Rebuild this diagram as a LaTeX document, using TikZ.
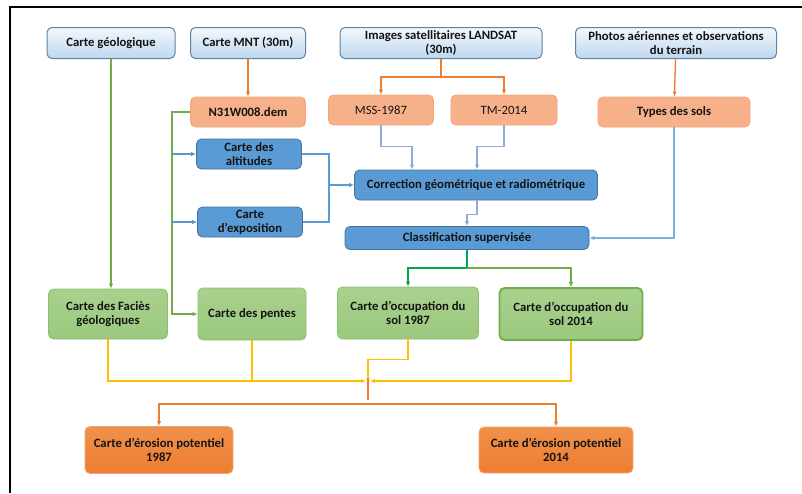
\documentclass[tikz,border=0pt]{standalone}
\usepackage{fontspec}
\setmainfont{Carlito}
\usepackage{tikz}
\usetikzlibrary{positioning,arrows.meta}
\definecolor{srcborder}{HTML}{5F83A5}
\definecolor{srctop}{HTML}{F4F8FC}
\definecolor{srcbot}{HTML}{BDD7EE}
\definecolor{salmon}{HTML}{F6B08A}
\definecolor{salmonline}{HTML}{F2A574}
\definecolor{midblue}{HTML}{5B9BD5}
\definecolor{darkblue}{HTML}{41719C}
\definecolor{paleblue}{HTML}{8FAADC}
\definecolor{leaf}{HTML}{A9D18E}
\definecolor{leafbot}{HTML}{9BC97E}
\definecolor{leafline}{HTML}{8CC06C}
\definecolor{grass}{HTML}{70AD47}
\definecolor{deepgreen}{HTML}{00A651}
\definecolor{carrot}{HTML}{ED7D31}
\definecolor{carrottop}{HTML}{F0914B}
\definecolor{amber}{HTML}{FFC000}
\definecolor{ink}{HTML}{141414}
\tikzset{
  flowarrow/.style={-{Latex[length=5pt,width=4.5pt]}},
  basebox/.style={rounded corners=5pt, align=center, text=ink, inner sep=2pt},
  srcbox/.style={basebox, draw=srcborder, line width=1pt, top color=srctop, bottom color=srcbot, minimum height=31pt},
  rawbox/.style={basebox, draw=salmonline, line width=0.8pt, fill=salmon, minimum height=30pt},
  procbox/.style={basebox, draw=darkblue, line width=0.8pt, fill=midblue, minimum height=30pt},
  mapbox/.style={basebox, draw=leafline, line width=0.8pt, top color=leaf, bottom color=leafbot},
  finalbox/.style={basebox, draw=salmonline, line width=0.8pt, top color=carrottop, bottom color=carrot},
  orangeline/.style={flowarrow, draw=carrot, line width=1.3pt},
  greenline/.style={flowarrow, draw=grass, line width=1.8pt},
  blueline/.style={flowarrow, draw=midblue, line width=1.8pt},
  paleline/.style={flowarrow, draw=paleblue, line width=1.2pt},
  yellowline/.style={flowarrow, draw=amber, line width=1.3pt},
  thickorange/.style={flowarrow, draw=carrot, line width=2.4pt}
}
\begin{document}
\begin{tikzpicture}[x=1pt, y=-1pt, every node/.style={font=\bfseries\fontsize{12.7}{14}\selectfont}]
  \useasboundingbox (0,0) rectangle (802,493);
  \draw[line width=2.6pt] (10,493) -- (10,7) -- (802,7);

  \node[srcbox, minimum width=128pt] (geo) at (111,43) {Carte géologique};
  \node[srcbox, minimum width=115pt] (mnt) at (248,43) {Carte MNT (30m)};
  \node[srcbox, minimum width=202pt] (landsat) at (441,43) {Images satellitaires LANDSAT\\(30m)};
  \node[srcbox, minimum width=201pt] (photos) at (676,43) {Photos aériennes et observations\\du terrain};

  \node[rawbox, minimum width=115pt] (dem) at (248,112) {N31W008.dem};
  \node[rawbox, minimum width=105pt, font=\mdseries\fontsize{12.7}{14}\selectfont] (mss) at (381,110) {MSS-1987};
  \node[rawbox, minimum width=106pt, font=\mdseries\fontsize{12.7}{14}\selectfont] (tm) at (504,110) {TM-2014};
  \node[rawbox, minimum width=152pt] (sols) at (674,112) {Types des sols};

  \node[procbox, minimum width=105pt] (alt) at (249,154) {Carte des\\altitudes};
  \node[procbox, minimum width=105pt] (expo) at (250,222) {Carte\\d’exposition};
  \node[procbox, minimum width=243pt] (corr) at (476,185) {Correction géométrique et radiométrique};
  \node[procbox, minimum width=244pt, minimum height=23pt] (classif) at (467,238) {Classification supervisée};

  \node[mapbox, minimum width=119pt, minimum height=50pt] (facies) at (108,314) {Carte des Faciès\\géologiques};
  \node[mapbox, minimum width=108pt, minimum height=52pt] (pentes) at (252,314) {Carte des pentes};
  \node[mapbox, minimum width=141pt, minimum height=52pt] (occ87) at (408,313) {Carte d’occupation du\\sol 1987};
  \node[mapbox, draw=grass, line width=1.8pt, minimum width=143pt, minimum height=52pt] (occ14) at (571,314) {Carte d’occupation du\\sol 2014};

  \node[finalbox, minimum width=148pt, minimum height=47pt] (ero87) at (159,450) {Carte d’érosion potentiel\\1987};
  \node[finalbox, minimum width=154pt, minimum height=46pt] (ero14) at (556,450) {Carte d’érosion potentiel\\2014};

  \coordinate (jct) at (368,381);

  \draw[orangeline] (mnt) -- (dem);
  \draw[orangeline] (landsat.south) -- ++(0,18) -| (mss.north);
  \draw[orangeline] (landsat.south) ++(0,18) -| (tm.north);
  \draw[orangeline] (photos) -- (sols);

  \draw[greenline] (geo) -- (geo |- facies.north);
  \draw[greenline] (dem.west) -- ++(-18,0) coordinate (demleft) |- (pentes.west);
  \draw[blueline, draw=midblue!90!darkblue, line width=1.2pt] (demleft |- alt.west) -- (alt.west);
  \draw[blueline, draw=midblue!90!darkblue, line width=1.2pt] (demleft |- expo.west) -- (expo.west);

  \draw[blueline, -] (alt.east) -- ++(27,0) coordinate (altright) |- (expo.east);
  \draw[blueline] (altright |- corr.west) -- (corr.west);

  \draw[paleline] (mss.south) -- ++(0,21) -| ([xshift=-64pt]corr.north);
  \draw[paleline] (tm.south) -- ++(0,21) -| ([xshift=1pt]corr.north);
  \draw[paleline] ([xshift=1pt]corr.south) -- ++(0,14) -| (classif.north);
  \draw[blueline, draw=midblue!80!white] (sols.south) |- (classif.east);

  \draw[greenline, draw=deepgreen] (classif.south) -- ++(0,18) -| (occ87.north);
  \draw[greenline] (classif.south) ++(0,18) -| (occ14.north);

  \draw[yellowline] (facies.south) |- ([xshift=-2pt]jct);
  \draw[yellowline, -] (pentes.south) -- (pentes.south |- jct);
  \draw[yellowline] (occ87.south) -- ++(0,20) -| ([yshift=-2pt]jct);
  \draw[yellowline] (occ14.south) |- ([xshift=2pt]jct);

  \draw[thickorange, -] ([yshift=2pt]jct) -- ++(0,21);
  \draw[orangeline, line width=2pt] (jct) ++(0,23) -| (ero87.north);
  \draw[orangeline, line width=2pt] (jct) ++(0,23) -| (ero14.north);
\end{tikzpicture}
\end{document}
